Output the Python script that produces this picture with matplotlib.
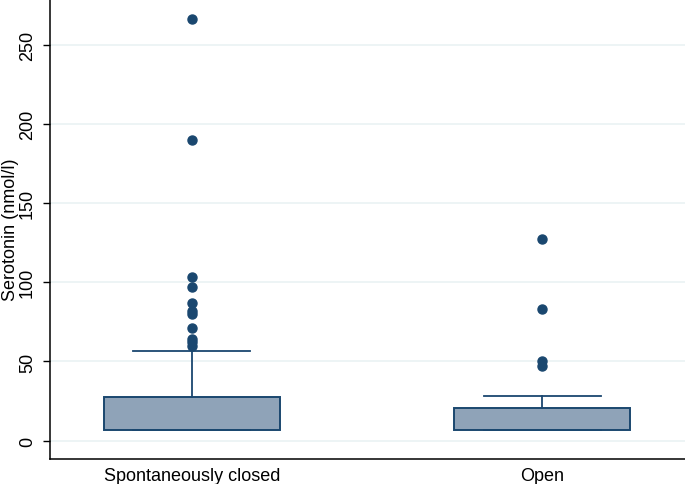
import matplotlib
matplotlib.use("Agg")
import matplotlib.pyplot as plt

categories = ["Spontaneously closed", "Open"]
q1 = [6.5, 7.0]
median = [14.0, 12.0]
q3 = [27.8, 20.8]
whislo = [6.5, 7.0]
whishi = [56.8, 28.4]
outliers_closed = [266, 190, 103, 97, 87, 82, 80, 71, 64, 62, 59.5]
outliers_open = [127, 83, 50, 47]
fliers = [outliers_closed, outliers_open]
yticks = [0, 50, 100, 150, 200, 250]

plt.rcParams['font.family'] = ['Liberation Sans', 'DejaVu Sans']
navy = '#1a476f'
fill = '#8fa3b8'

fig = plt.figure(figsize=(6.85, 4.85), dpi=100)
ax = fig.add_axes([0.073, 0.0515, 0.927, 0.9485])

stats = []
for i, c in enumerate(categories):
    stats.append(dict(label=c, q1=q1[i], med=median[i], q3=q3[i],
                      whislo=whislo[i], whishi=whishi[i], fliers=fliers[i]))

ax.bxp(stats, positions=[0, 1], widths=0.502, patch_artist=True,
       boxprops=dict(facecolor=fill, edgecolor=navy, linewidth=1.4),
       medianprops=dict(color=fill, linewidth=0),
       whiskerprops=dict(color=navy, linewidth=1.3),
       capprops=dict(color=navy, linewidth=1.3),
       capwidths=0.334,
       flierprops=dict(marker='o', markerfacecolor=navy, markeredgecolor=navy,
                       markersize=6.5, linestyle='none'))

ax.set_xlim(-0.405, 1.407)
ax.set_ylim(-11.6, 278.8)
ax.set_yticks(yticks)
ax.set_yticklabels([str(t) for t in yticks], rotation=90, va='center', fontsize=13)
ax.set_xticks([0, 1])
ax.set_xticklabels(categories, fontsize=13)
ax.tick_params(axis='x', length=0, pad=6)
ax.tick_params(axis='y', length=5, width=1, color='black', pad=5)
ax.set_ylabel("Serotonin (nmol/l)", fontsize=13, labelpad=0)
ax.grid(axis='y', color='#eaf2f3', linewidth=1.2)
ax.set_axisbelow(True)
for s in ['top', 'right']:
    ax.spines[s].set_visible(False)
for s in ['left', 'bottom']:
    ax.spines[s].set_linewidth(1.1)

fig.savefig("out.png", dpi=100)
